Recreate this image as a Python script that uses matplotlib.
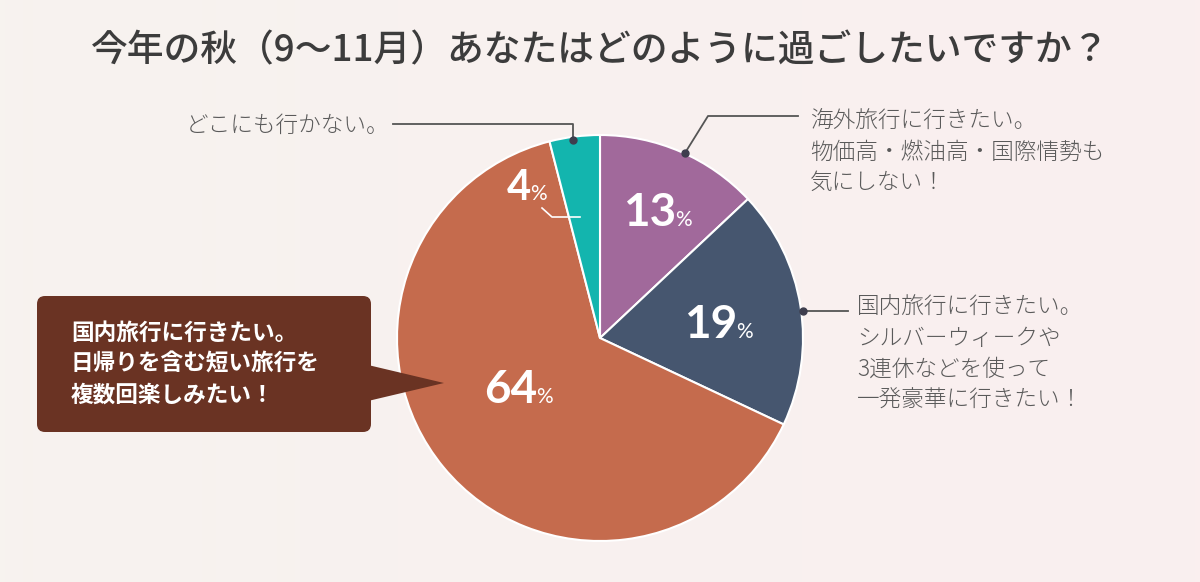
import numpy as np
import matplotlib
matplotlib.use('Agg')
import matplotlib.pyplot as plt
from matplotlib.patches import FancyBboxPatch, Polygon

plt.rcParams['font.family'] = ['Noto Sans CJK JP', 'DejaVu Sans']

# データ（時計回り、12時の位置から）
labels = ['海外旅行', '国内旅行（一発豪華）', '国内旅行（短い旅行）', 'どこにも行かない']
values = [13, 19, 64, 4]
colors = ['#A1699B', '#46566F', '#C56B4D', '#13B5AE']
# パーセント数字の右端・ベースライン位置
pct_pos = [(676, 226), (737, 338), (537, 403), (531, 200)]

title = '今年の秋（9〜11月）あなたはどのように過ごしたいですか？'

W, H = 1200, 582
fig = plt.figure(figsize=(W / 100, H / 100), dpi=100)
ax = fig.add_axes([0, 0, 1, 1])

# 背景のグラデーション
grad = np.linspace(0, 1, 256).reshape(1, -1)
c1 = np.array([247, 243, 239]) / 255
c2 = np.array([250, 239, 239]) / 255
img = c1[None, None, :] * (1 - grad[..., None]) + c2[None, None, :] * grad[..., None]
ax.imshow(img, extent=[0, W, H, 0], aspect='auto', zorder=0)

# 円グラフ（y軸が反転しているので counterclock=True で画面上は時計回り）
cx, cy, r = 600, 338, 203
ax.pie(values, colors=colors, startangle=-90, counterclock=True,
       center=(cx, cy), radius=r, frame=True,
       wedgeprops=dict(edgecolor='white', linewidth=1.5, zorder=2))
ax.set_xlim(0, W)
ax.set_ylim(H, 0)
ax.set_aspect('auto')
ax.axis('off')

# パーセント表示
num_font = ['Lato', 'DejaVu Sans']
for (x, y), v in zip(pct_pos, values):
    big = 33 if v >= 10 else 30
    ax.text(x, y, str(v), color='white', fontsize=big, fontweight='bold',
            family=num_font, ha='right', va='baseline', zorder=5)
    ax.text(x - 1, y, '%', color='white', fontsize=15, fontweight='normal',
            family=num_font, ha='left', va='baseline', zorder=5)

# 4% の白い引き出し線
ax.plot([542, 552, 580], [208, 217, 217], color='white', lw=1.2, zorder=5)

# タイトル
ax.text(600, 50, title, fontsize=26.5, color='#3c3c3c', ha='center', va='center',
        fontweight='medium')

# 外側のラベル
gray = '#5a5a5a'
lc = '#555555'
dot = '#3e3e4e'
fs = 16.3

ax.plot([393, 573, 573], [124, 124, 139], color=lc, lw=1.3, zorder=3)
ax.plot([573], [140], 'o', color=dot, ms=5, zorder=4)
ax.text(389, 125, 'どこにも行かない。', fontsize=fs, color=gray, ha='right',
        va='center', fontweight='light')

ax.plot([685, 708, 798], [153, 116, 116], color=lc, lw=1.3, zorder=3)
ax.plot([685], [153], 'o', color=dot, ms=5, zorder=4)
ax.text(810, 152, '海外旅行に行きたい。\n物価高・燃油高・国際情勢も\n気にしない！',
        fontsize=fs, color=gray, ha='left', va='center', linespacing=1.31,
        fontweight='light')

ax.plot([803, 848], [311, 311], color=lc, lw=1.3, zorder=3)
ax.plot([803], [311], 'o', color=dot, ms=5, zorder=4)
ax.text(857, 354, '国内旅行に行きたい。\nシルバーウィークや\n3連休などを使って\n一発豪華に行きたい！',
        fontsize=fs, color=gray, ha='left', va='center', linespacing=1.31,
        fontweight='light')

# 吹き出し
brown = '#6A3323'
box = FancyBboxPatch((37, 296), 334, 136, boxstyle='round,pad=0,rounding_size=8',
                     fc=brown, ec='none', zorder=6)
ax.add_patch(box)
ax.add_patch(Polygon([(368, 365), (444, 383), (368, 401)], closed=True,
                     fc=brown, ec='none', zorder=6))
ax.text(71, 364, '国内旅行に行きたい。\n日帰りを含む短い旅行を\n複数回楽しみたい！',
        fontsize=fs, color='white', ha='left', va='center', linespacing=1.43,
        fontweight='bold', zorder=7)

fig.savefig('out.png', dpi=100, facecolor=fig.get_facecolor())
